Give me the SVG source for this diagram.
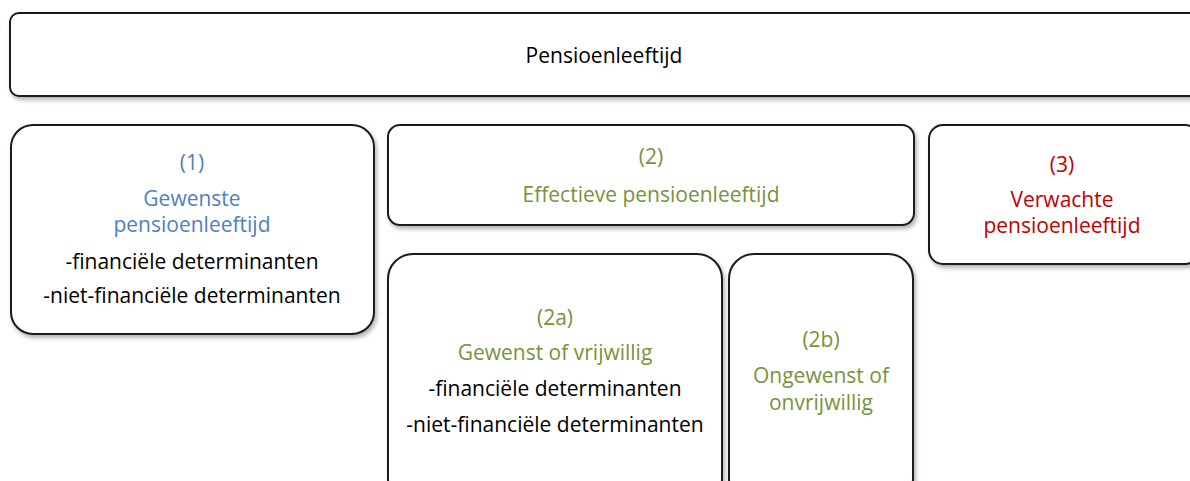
<svg xmlns="http://www.w3.org/2000/svg" width="1190" height="481" viewBox="0 0 1190 481">
<defs>
<filter id="sh" x="-5%" y="-5%" width="110%" height="120%">
<feDropShadow dx="2" dy="3" stdDeviation="2" flood-color="#000" flood-opacity="0.3"/>
</filter>
</defs>
<style>
.box{fill:#fff;stroke:#1a1a1a;stroke-width:2;filter:url(#sh)}
text{font-family:"Open Sans","Noto Sans",sans-serif;font-size:21px;text-anchor:middle}
.k{fill:#000}
.b{fill:#4F81BD}
.g{fill:#77933C}
.r{fill:#C00000}
</style>
<rect width="1190" height="481" fill="#fff"/>
<g id="connectors"></g>
<g id="n-top">
<rect class="box" x="10" y="13" width="1190" height="83" rx="9"/>
<text class="k" x="604" y="63">Pensioenleeftijd</text>
</g>
<g id="n1">
<rect class="box" x="11" y="125" width="363" height="209" rx="22"/>
<text class="b" x="192" y="170">(1)</text>
<text class="b" x="192" y="206">Gewenste</text>
<text class="b" x="192" y="232">pensioenleeftijd</text>
<text class="k" x="192" y="269">-financiële determinanten</text>
<text class="k" x="192" y="303">-niet-financiële determinanten</text>
</g>
<g id="n2">
<rect class="box" x="388" y="125" width="526" height="100" rx="12"/>
<text class="g" x="651" y="164">(2)</text>
<text class="g" x="651" y="202">Effectieve pensioenleeftijd</text>
</g>
<g id="n3">
<rect class="box" x="929" y="125" width="270" height="139" rx="14"/>
<text class="r" x="1062" y="172">(3)</text>
<text class="r" x="1062" y="207">Verwachte</text>
<text class="r" x="1062" y="233">pensioenleeftijd</text>
</g>
<g id="n2a">
<rect class="box" x="388" y="254" width="334" height="250" rx="25"/>
<text class="g" x="555" y="325">(2a)</text>
<text class="g" x="555" y="360">Gewenst of vrijwillig</text>
<text class="k" x="555" y="396">-financiële determinanten</text>
<text class="k" x="555" y="432">-niet-financiële determinanten</text>
</g>
<g id="n2b">
<rect class="box" x="729" y="254" width="184" height="250" rx="25"/>
<text class="g" x="821" y="347">(2b)</text>
<text class="g" x="821" y="383">Ongewenst of</text>
<text class="g" x="821" y="410">onvrijwillig</text>
</g>
</svg>
